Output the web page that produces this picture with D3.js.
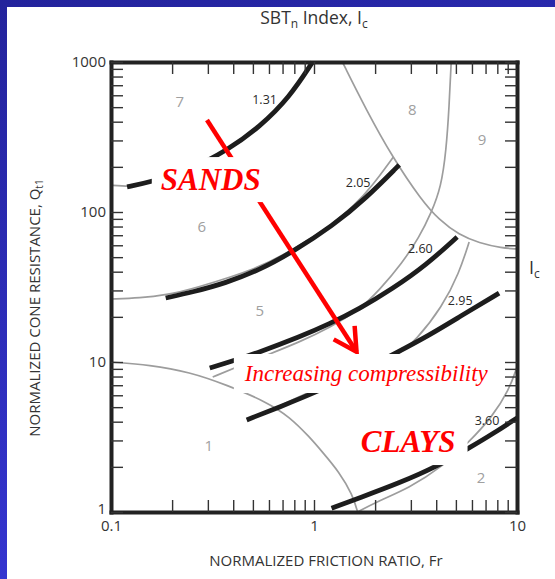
<!doctype html>
<html lang="en">
<head>
  <meta charset="utf-8">
  <title>SBTn Index chart</title>
  <style>
    * { margin: 0; padding: 0; box-sizing: border-box; }
    body { background: #fff; }
    svg { display: block; }
    text { font-family: "Open Sans", "Noto Sans", sans-serif; }
  </style>
</head>
<body>
  <div id="chart"></div>
  <script src="https://cdn.jsdelivr.net/npm/d3@7"></script>
  <script>
    // axis ticks
    const frTicks = [0.1,0.2,0.3,0.4,0.5,0.6,0.7,0.8,0.9,1,2,3,4,5,6,7,8,9,10];
    const qTicks = [1,2,3,4,5,6,7,8,9,10,20,30,40,50,60,70,80,90,100,200,300,400,500,600,700,800,900,1000];
    const frLabels = [0.1, 1, 10];
    const qLabels = [1, 10, 100, 1000];

    // Ic contours, [Fr, Qt1]
    const icNames = ["1.31", "2.05", "2.60", "2.95", "3.60"];
    const ic131 = [[0.12,147],[0.155,158],[0.244,190],[0.376,259],[0.54,369],[0.759,584],[0.984,1000]];
    const ic205 = [[0.186,26.7],[0.253,29.3],[0.367,33.6],[0.54,41.1],[0.783,54.1],[1.233,80.7],[1.81,124],[2.63,206]];
    const ic260 = [[0.3065,9.12],[0.385,10.0],[0.54,11.66],[0.849,14.7],[1.19,17.9],[1.67,22.6],[2.43,30.7],[3.57,44.3],[5.07,68.1]];
    const ic295 = [[0.466,4.11],[0.676,5.01],[1.03,6.31],[1.67,8.58],[2.54,11.5],[3.70,15.1],[5.19,19.95],[8.16,28.8]];
    const ic360 = [[1.22,1.06],[1.67,1.24],[2.63,1.56],[4.00,2.0],[5.81,2.67],[7.71,3.36],[10,4.24]];
    const icLabelAt = [[0.571,550],[1.65,154],[3.34,55.8],[5.25,25.1],[7.12,3.98]];

    // zone boundaries (thin grey)
    const zone67 = [[0.1,151],[0.113,149],[0.128,148.5]];
    const zone56 = [[0.1,26.3],[0.139,26.7],[0.188,28],[0.253,30.7],[0.54,42.3],[0.783,56],[1.233,81.9],[1.58,111],[1.92,147],[2.46,233]];
    const zone1 = [[0.1,10],[0.155,9.55],[0.244,8.58],[0.372,7.03],[0.585,5.41],[0.759,4.30],[0.951,3.16],[1.10,2.51],[1.33,1.85],[1.55,1.30],[1.64,1.0]];
    const zone45 = [[0.317,7.94],[0.416,9.26],[0.604,11.3],[0.849,13.6],[1.19,16.9],[1.67,22.2],[2.10,30.2],[2.72,45.7],[3.30,68.1],[3.78,98.5],[4.23,147],[4.48,259],[4.63,501],[4.74,1000]];
    const zone34 = [[0.663,5.01],[0.759,5.50],[1.06,6.71],[1.67,8.45],[2.54,10.8],[3.19,14.0],[4.28,23.3],[5.19,39.2],[5.81,63.1]];
    const zone23 = [[1.64,1.0],[2.03,1.17],[2.95,1.45],[4.28,2.0],[5.81,2.93],[7.54,4.30],[9.14,6.51],[10,9.26]];
    const zone89 = [[1.38,1000],[1.81,479],[2.43,233],[3.38,120],[4.14,88.4],[5.19,70.3],[6.50,62.2],[8.44,57.5],[10,56.7]];

    const zoneNames = ["7","6","5","1","8","9","2"];
    const zoneAt = [[0.218,533],[0.280,78.2],[0.540,21.5],[0.303,2.71],[3.05,471],[6.73,297],[6.65,1.66]];

    // annotations
    const arrowFromTo = [[0.297,410],[1.62,11.7]];
    const noteTexts = ["SANDS", "Increasing compressibility", "CLAYS"];
    const noteAt = [[0.31,140],[1.81,7.47],[2.91,2.51]];

    const W = 555, H = 579;
    const svg = d3.select('#chart').append('svg').attr('width', W).attr('height', H);

    const grad = svg.append('defs').append('linearGradient')
      .attr('id', 'bg').attr('x1', 0).attr('y1', 0).attr('x2', 0.3).attr('y2', 1);
    grad.append('stop').attr('offset', 0).attr('stop-color', '#23239c');
    grad.append('stop').attr('offset', 1).attr('stop-color', '#3636d4');
    svg.append('rect').attr('width', W).attr('height', H).attr('fill', 'url(#bg)');
    svg.append('rect').attr('x', 7).attr('y', 7).attr('width', W - 7).attr('height', H - 7).attr('fill', '#fff');

    const x = d3.scaleLog().domain([0.1, 10]).range([111, 517]);
    const y = d3.scaleLog().domain([1, 1000]).range([512, 62]);

    const line = d3.line().x(d => x(d[0])).y(d => y(d[1])).curve(d3.curveBasis);

    const plot = svg.append('g');

    // grey boundaries
    plot.selectAll('path.zone')
      .data([zone67, zone56, zone1, zone45, zone34, zone23, zone89])
      .join('path').attr('class', 'zone')
      .attr('d', line).attr('fill', 'none')
      .attr('stroke', '#9d9d9d').attr('stroke-width', 1.7);

    // black Ic contours
    plot.selectAll('path.ic')
      .data([ic131, ic205, ic260, ic295, ic360])
      .join('path').attr('class', 'ic')
      .attr('d', line).attr('fill', 'none')
      .attr('stroke', '#1d1d1d').attr('stroke-width', 4.8);

    plot.selectAll('text.zn')
      .data(zoneNames)
      .join('text').attr('class', 'zn')
      .attr('x', (d, i) => x(zoneAt[i][0]))
      .attr('y', (d, i) => y(zoneAt[i][1]))
      .attr('text-anchor', 'middle').attr('dominant-baseline', 'middle')
      .attr('fill', '#a0a0a0').style('font-size', '15px')
      .text(d => d);

    plot.selectAll('text.icl')
      .data(icNames)
      .join('text').attr('class', 'icl')
      .attr('x', (d, i) => x(icLabelAt[i][0]))
      .attr('y', (d, i) => y(icLabelAt[i][1]))
      .attr('text-anchor', 'middle').attr('dominant-baseline', 'middle')
      .attr('fill', '#2a2a2a').style('font-size', '12.5px')
      .text(d => d);

    // red arrow
    const a0 = [x(arrowFromTo[0][0]), y(arrowFromTo[0][1])];
    const a1 = [x(arrowFromTo[1][0]), y(arrowFromTo[1][1])];
    const ang = Math.atan2(a1[1] - a0[1], a1[0] - a0[0]);
    const barb = 26, spread = 0.5;
    plot.append('line')
      .attr('x1', a0[0]).attr('y1', a0[1]).attr('x2', a1[0]).attr('y2', a1[1])
      .attr('stroke', '#ff0000').attr('stroke-width', 4.5);
    plot.append('path')
      .attr('d', `M${a1[0] - barb * Math.cos(ang - spread)},${a1[1] - barb * Math.sin(ang - spread)}L${a1[0]},${a1[1]}L${a1[0] - barb * Math.cos(ang + spread)},${a1[1] - barb * Math.sin(ang + spread)}`)
      .attr('fill', 'none').attr('stroke', '#ff0000').attr('stroke-width', 4.5)
      .attr('stroke-linejoin', 'miter');

    // text boxes
    const noteSize = [31, 23, 31];
    const noteBold = [true, false, true];
    const notePad = [[9, 5], [10, 7], [12, 6]];
    noteTexts.forEach((t, i) => {
      const g = svg.append('g');
      const txt = g.append('text')
        .attr('x', x(noteAt[i][0])).attr('y', y(noteAt[i][1]))
        .attr('text-anchor', 'middle')
        .style('font-family', '"Liberation Serif", "Times New Roman", serif')
        .style('font-style', 'italic')
        .style('font-weight', noteBold[i] ? 'bold' : 'normal')
        .style('font-size', noteSize[i] + 'px')
        .attr('fill', '#ff0000')
        .text(t);
      const b = txt.node().getBBox();
      g.insert('rect', 'text')
        .attr('x', b.x - notePad[i][0]).attr('y', b.y - notePad[i][1])
        .attr('width', b.width + 2 * notePad[i][0]).attr('height', b.height + 2 * notePad[i][1])
        .attr('fill', '#fff');
    });

    // axes, ticks point inwards
    const fmtX = d => frLabels.includes(d) ? String(d) : '';
    const fmtY = d => qLabels.includes(d) ? String(d) : '';
    const axG = svg.append('g');
    axG.append('g').attr('transform', 'translate(0,512)')
      .call(d3.axisBottom(x).tickValues(frTicks).tickFormat(fmtX).tickSize(-12).tickSizeOuter(0).tickPadding(8));
    axG.append('g').attr('transform', 'translate(0,62)')
      .call(d3.axisTop(x).tickValues(frTicks).tickFormat('').tickSize(-12).tickSizeOuter(0));
    const yAx = axG.append('g').attr('transform', 'translate(111,0)')
      .call(d3.axisLeft(y).tickValues(qTicks).tickFormat(fmtY).tickSize(-12).tickSizeOuter(0).tickPadding(5));
    axG.append('g').attr('transform', 'translate(517,0)')
      .call(d3.axisRight(y).tickValues(qTicks).tickFormat('').tickSize(-12).tickSizeOuter(0));
    axG.selectAll('.domain').attr('stroke', '#222').attr('stroke-width', 4).attr('stroke-linecap', 'square');
    axG.selectAll('.tick line').attr('stroke', '#333').attr('stroke-width', 1.4);
    axG.selectAll('.tick text').attr('fill', '#333').style('font-size', '15px')
      .style('font-family', '"Open Sans", "Noto Sans", sans-serif');
    // lift the bottom "1" a little so it clears "0.1"
    yAx.selectAll('.tick text').filter(d => d === 1).attr('dy', '0.1em');

    // titles
    const title = svg.append('text').attr('x', 314).attr('y', 24)
      .attr('text-anchor', 'middle').attr('fill', '#333').style('font-size', '17.5px');
    title.append('tspan').text('SBT');
    title.append('tspan').attr('dy', 4).style('font-size', '12px').text('n');
    title.append('tspan').attr('dy', -4).text(' Index, I');
    title.append('tspan').attr('dy', 4).style('font-size', '12px').text('c');

    const ic = svg.append('text').attr('x', 529).attr('y', 274).attr('fill', '#333').style('font-size', '18px');
    ic.append('tspan').text('I');
    ic.append('tspan').attr('dy', 4).style('font-size', '12px').text('c');

    svg.append('text').attr('x', 326).attr('y', 566)
      .attr('text-anchor', 'middle').attr('fill', '#333').style('font-size', '15px')
      .text('NORMALIZED FRICTION RATIO, Fr');

    const yl = svg.append('text').attr('transform', 'translate(40,308) rotate(-90)')
      .attr('text-anchor', 'middle').attr('fill', '#333').style('font-size', '15px');
    yl.append('tspan').text('NORMALIZED CONE RESISTANCE, Q');
    yl.append('tspan').attr('dy', 3).style('font-size', '10px').text('t1');
  </script>
</body>
</html>
